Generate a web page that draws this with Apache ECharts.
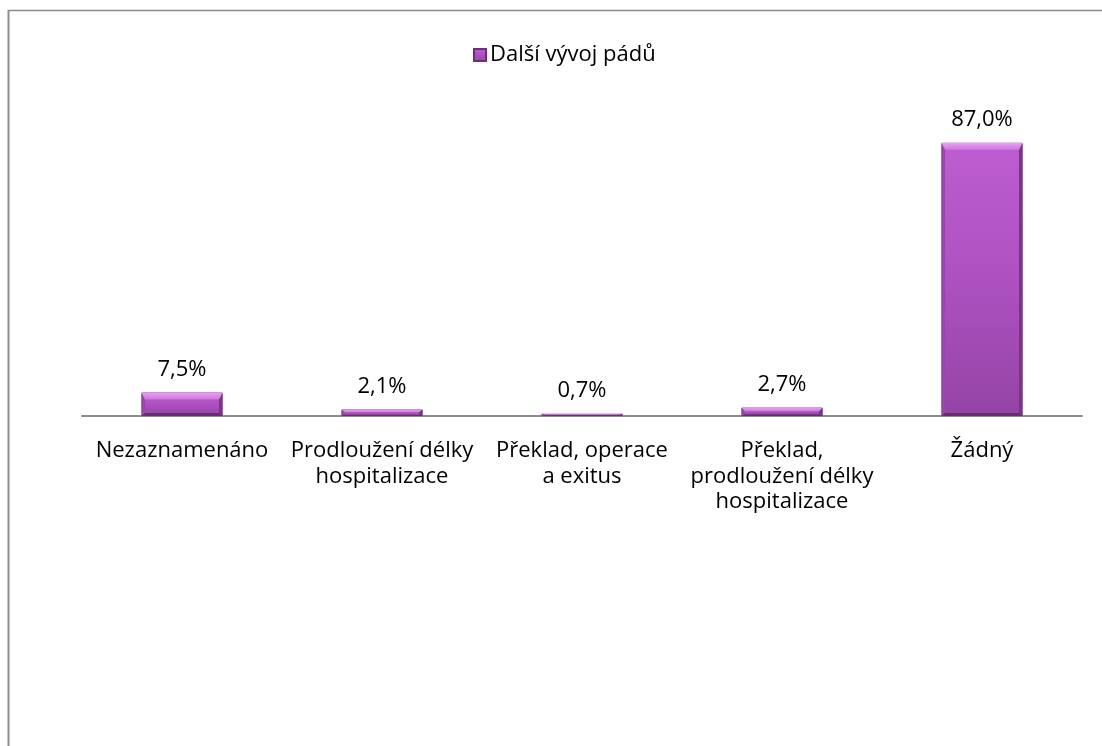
<!DOCTYPE html>
<html>
<head>
<meta charset="utf-8">
<script src="https://cdn.jsdelivr.net/npm/echarts@6/dist/echarts.min.js"></script>
<style>
  html, body { margin: 0; padding: 0; background: #fff; }
  #chart { width: 1102px; height: 746px; }
</style>
</head>
<body>
<div id="chart"></div>
<script>
// Outcome categories after a fall and their share in percent
const categories = [
  'Nezaznamenáno',
  'Prodloužení délky\nhospitalizace',
  'Překlad, operace\na exitus',
  'Překlad,\nprodloužení délky\nhospitalizace',
  'Žádný'
];
const values = [7.5, 2.1, 0.7, 2.7, 87.0];
const seriesName = 'Další vývoj pádů';

const FONT = '"Open Sans", Lato, sans-serif';
const BAR_RATIO = 0.405;

const barFill = new echarts.graphic.LinearGradient(0, 0, 0, 1, [
  { offset: 0, color: '#bd5dd1' },
  { offset: 0.5, color: '#ad51c0' },
  { offset: 1, color: '#9444a5' }
]);

// Bevelled edges drawn on top of each bar, positioned via the axis scales
function renderBevel(params, api) {
  const idx = api.value(0);
  const val = api.value(1);
  const top = api.coord([idx, val]);
  const base = api.coord([idx, 0]);
  const w = api.size([1, 0])[0] * BAR_RATIO;
  const L = top[0] - w / 2, R = top[0] + w / 2;
  const T = top[1], B = base[1];
  const h = B - T;
  const tb = Math.min(7, h * 0.45);
  const bb = Math.min(3, h * 0.2);
  const s = Math.min(3.5, w / 4);
  const poly = (pts, fill) => ({ type: 'polygon', shape: { points: pts }, style: { fill: fill }, silent: true });
  return {
    type: 'group',
    children: [
      poly([[L, T], [L + s, T + tb], [L + s, B - bb], [L, B]], '#9a45ab'),
      poly([[R, T], [R - s, T + tb], [R - s, B - bb], [R, B]], '#7b3389'),
      poly([[L, B], [L + s, B - bb], [R - s, B - bb], [R, B]], '#6a2a77'),
      poly([[L, T], [R, T], [R - s, T + tb], [L + s, T + tb]], new echarts.graphic.LinearGradient(0, 0, 0, 1, [
        { offset: 0, color: '#e7a4f3' },
        { offset: 1, color: '#cf74e0' }
      ]))
    ]
  };
}

const chart = echarts.init(document.getElementById('chart'));
chart.setOption({
  backgroundColor: '#fff',
  animation: false,
  graphic: [
    // frame lines along the top and left edge
    { type: 'line', shape: { x1: 8, y1: 10.5, x2: 1102, y2: 10.5 }, style: { stroke: '#8c8c8c', lineWidth: 1.5 } },
    { type: 'line', shape: { x1: 8.5, y1: 10, x2: 8.5, y2: 746 }, style: { stroke: '#8c8c8c', lineWidth: 2 } }
  ],
  legend: {
    top: 39,
    left: 468,
    itemWidth: 12,
    itemHeight: 12,
    itemGap: 4,
    icon: 'rect',
    textStyle: { fontFamily: FONT, fontSize: 22, color: '#000', padding: [0, 0, 0, -1] },
    data: [seriesName]
  },
  grid: { left: 82, right: 20, top: 102, bottom: 330, containLabel: false },
  xAxis: {
    type: 'category',
    data: categories,
    axisLine: { lineStyle: { color: '#8c8c8c', width: 2 } },
    axisTick: { show: false },
    axisLabel: {
      interval: 0,
      margin: 22,
      fontFamily: FONT,
      fontSize: 22,
      lineHeight: 25.5,
      color: '#000',
      align: 'center'
    }
  },
  yAxis: {
    type: 'value',
    min: 0,
    max: 100,
    show: false,
    splitLine: { show: false }
  },
  series: [{
    name: seriesName,
    type: 'bar',
    data: values,
    barWidth: (BAR_RATIO * 100) + '%',
    itemStyle: {
      color: barFill,
      borderColor: '#6f2d7e',
      borderWidth: 1
    },
    label: {
      show: true,
      position: 'top',
      distance: 12,
      fontFamily: FONT,
      fontSize: 22,
      color: '#000',
      formatter: p => p.value.toFixed(1).replace('.', ',') + '%'
    }
  }, {
    name: 'bevel',
    type: 'custom',
    silent: true,
    renderItem: renderBevel,
    data: values.map((v, i) => [i, v]),
    z: 3
  }]
});
</script>
</body>
</html>
